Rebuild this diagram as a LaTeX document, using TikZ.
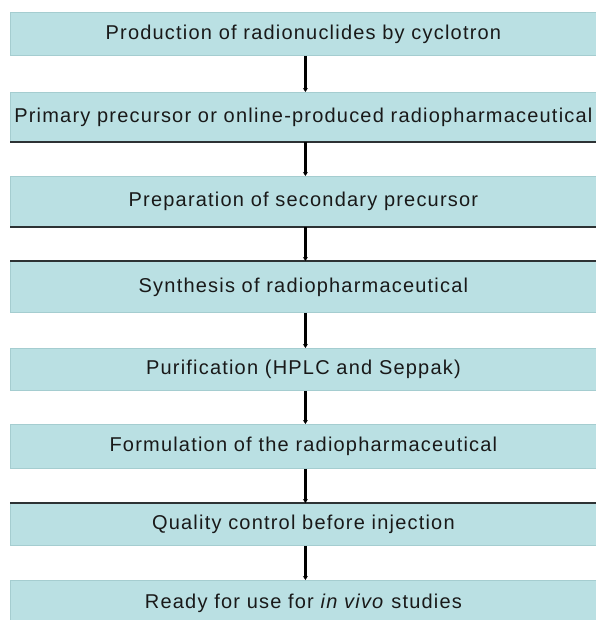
\documentclass[tikz,border=0pt]{standalone}
\usepackage{fontspec}
\setmainfont{Liberation Sans}
\newfontfamily\boxfont[LetterSpace=6]{Liberation Sans}
\usetikzlibrary{arrows.meta}
\definecolor{boxfill}{RGB}{186,224,227}
\definecolor{boxedge}{RGB}{165,205,208}
\definecolor{darkedge}{RGB}{45,50,52}
\tikzset{
  stepbox/.style={anchor=north west, fill=boxfill, draw=boxedge, line width=0.8pt,
    minimum width=586pt, inner sep=0pt, font=\boxfont\fontsize{20}{23}\selectfont, text=black!90},
  flowarrow/.style={draw=black, line width=2.2pt, -{Stealth[length=4pt,width=5pt]}},
  darkline/.style={draw=darkedge, line width=1.8pt}
}
\begin{document}
\begin{tikzpicture}[x=1pt,y=-1pt]
\useasboundingbox (0,0) rectangle (595,620);
\node[stepbox, minimum height=43pt] (b1) at (10,12) {Production of radionuclides by cyclotron};
\node[stepbox, minimum height=49pt] (b2) at (10,92) {Primary precursor or online-produced radiopharmaceutical};
\node[stepbox, minimum height=50pt] (b3) at (10,176) {Preparation of secondary precursor};
\node[stepbox, minimum height=51pt] (b4) at (10,261) {Synthesis of radiopharmaceutical};
\node[stepbox, minimum height=42pt] (b5) at (10,348) {Purification (HPLC and Seppak)};
\node[stepbox, minimum height=44pt] (b6) at (10,424) {Formulation of the radiopharmaceutical};
\node[stepbox, minimum height=42pt] (b7) at (10,503) {Quality control before injection};
\node[stepbox, minimum height=45pt] (b8) at (10,580) {Ready for use for \textit{in vivo} studies};
\draw[darkline] (b2.south west) -- (b2.south east);
\draw[darkline] (b3.south west) -- (b3.south east);
\draw[darkline] (b4.north west) -- (b4.north east);
\draw[darkline] (b7.north west) -- (b7.north east);
\foreach \a/\b in {b1/b2,b2/b3,b3/b4,b4/b5,b5/b6,b6/b7,b7/b8}
  \draw[flowarrow] ([xshift=2pt]\a.south) -- ([xshift=2pt]\b.north);
\end{tikzpicture}
\end{document}
